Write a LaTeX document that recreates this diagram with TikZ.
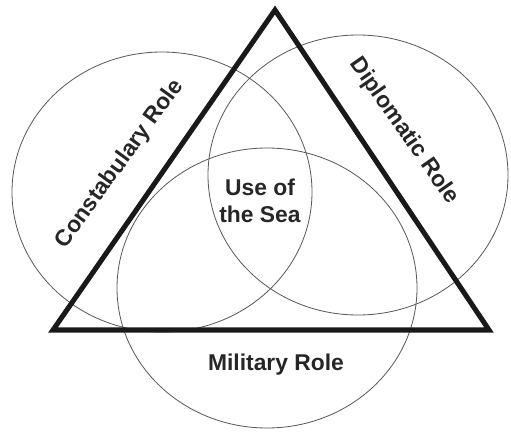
\documentclass[tikz,border=0pt]{standalone}
\usepackage{fontspec}
\setmainfont{Liberation Sans}
\begin{document}
\begin{tikzpicture}[x=0.03cm, y=-0.03cm]
\tikzset{
  role/.style={draw=black!65, line width=0.7pt},
  frame/.style={draw=black!90, line width=4.3pt, line join=miter},
  rolelabel/.style={font=\bfseries\fontsize{19.5}{23}\selectfont, text=black!85, inner sep=0pt},
}
\useasboundingbox (0,0) rectangle (511,432);
% the three roles
\draw[role] (162,192) ellipse [x radius=150, y radius=140];
\draw[role] (358,175) ellipse [x radius=150, y radius=140];
\draw[role] (267,288) ellipse [x radius=150, y radius=140];
% triangle
\coordinate (apex) at (275,10);
\coordinate (sw) at (53,330);
\coordinate (se) at (489,330);
\draw[frame] (apex) -- (se) -- (sw) -- cycle;
% labels
\node[rolelabel, rotate=54] (constab) at (120,164) {Constabulary Role};
\node[rolelabel, rotate=-55] (diplo) at (404,131) {Diplomatic Role};
\node[rolelabel] (mil) at (276,365) {Military Role};
\node[rolelabel, align=center] (sea) at (260,201) {Use of\\the Sea};
\end{tikzpicture}
\end{document}
